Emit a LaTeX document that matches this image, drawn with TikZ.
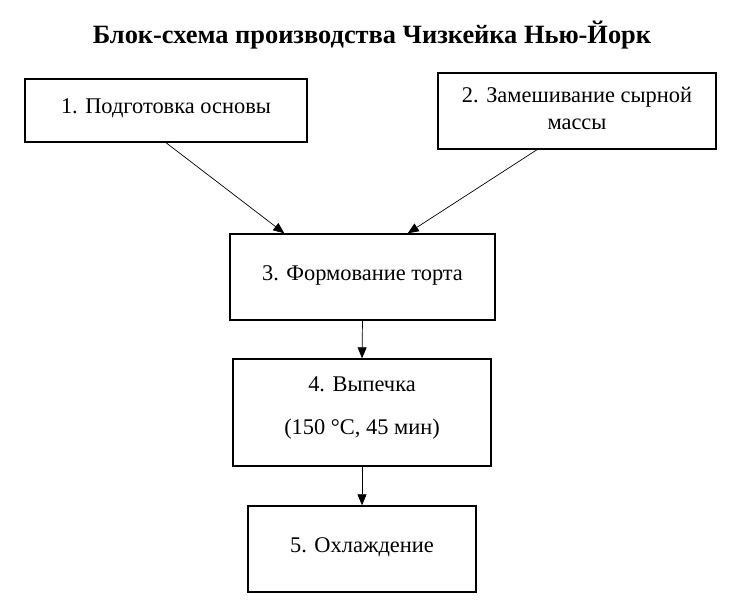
\documentclass[tikz,border=0pt]{standalone}
\usepackage{fontspec}
\setmainfont{Liberation Serif}
\usetikzlibrary{arrows.meta, positioning, calc}

\tikzset{
  stage/.style={draw=black, line width=1.4bp, align=center, inner sep=0pt, font=\fontsize{22.5}{27}\selectfont},
  oneline/.style={text height=16bp, text depth=10bp},
  flow/.style={-{Triangle[length=11bp,width=9bp]}, line width=0.7bp}
}
% extra depth below the last line, lifts the text a little
\newcommand{\lift}[1]{\rule[-#1]{0pt}{0pt}}

\begin{document}
\begin{tikzpicture}[x=1bp, y=-1bp]
  \useasboundingbox (0,0) rectangle (740,612);

  % Title
  \node[font=\fontsize{26.5}{26.5}\selectfont\bfseries] (title) at (372,35) {Блок-схема производства Чизкейка Нью-Йорк};

  % Stages of production
  \node[stage, oneline, minimum width=282bp, minimum height=63bp] (prep) at (166,110.5) {1. Подготовка основы};
  \node[stage, minimum width=278bp, minimum height=76bp] (mix) at (577,111) {2. Замешивание сырной\\массы\lift{5bp}};
  \node[stage, oneline, minimum width=265bp, minimum height=86bp] (form) at (362.5,277) {3. Формование торта};
  \node[stage, minimum width=258bp, minimum height=107bp] (bake) at (362,412.5) {4. Выпечка\\[16bp](150 °C, 45 мин)\lift{14bp}};
  \node[stage, oneline, minimum width=228bp, minimum height=86bp] (cool) at (362,549) {5. Охлаждение};

  % Arrows
  \draw[flow] (prep.south) -- ([xshift=55bp]form.north west);
  \draw[flow] ([xshift=-40bp]mix.south) -- ([xshift=-88bp]form.north east);
  \draw[flow] (form.south) -- (bake.north);
  \draw[flow] (bake.south) -- (cool.north);
\end{tikzpicture}
\end{document}
